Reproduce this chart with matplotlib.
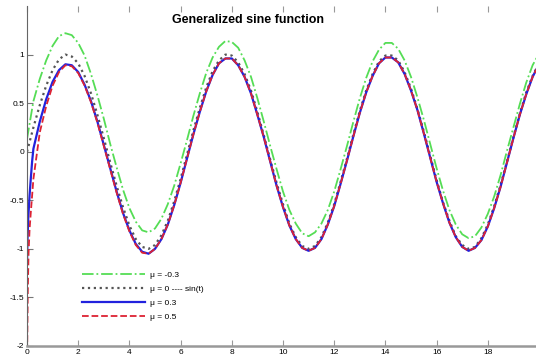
import numpy as np
import matplotlib
matplotlib.use("Agg")
import matplotlib.pyplot as plt

plt.rcParams['font.family'] = ['Liberation Sans', 'DejaVu Sans']

# common grid (step 0.25 from 0 to 20)
t = np.arange(0, 20.001, 0.25)

# mu = -0.3
y_m03 = [0.13, 0.52, 0.75, 0.94, 1.09, 1.19, 1.22, 1.20, 1.12, 0.99, 0.80, 0.58, 0.34,
         0.08, -0.16, -0.39, -0.58, -0.72, -0.81, -0.83, -0.79, -0.69, -0.54, -0.35,
         -0.12, 0.12, 0.37, 0.60, 0.81, 0.97, 1.08, 1.14, 1.13, 1.07, 0.94, 0.77, 0.55,
         0.31, 0.06, -0.18, -0.41, -0.60, -0.74, -0.84, -0.87, -0.83, -0.74, -0.60,
         -0.41, -0.18, 0.06, 0.31, 0.55, 0.76, 0.93, 1.05, 1.12, 1.12, 1.06, 0.94, 0.77,
         0.56, 0.33, 0.08, -0.17, -0.40, -0.60, -0.75, -0.85, -0.89, -0.87, -0.78,
         -0.64, -0.46, -0.24, 0.01, 0.25, 0.49, 0.71, 0.89, 1.01]

# mu = 0 (sin t)
y_0 = [0.00, 0.25, 0.48, 0.68, 0.84, 0.95, 1.00, 0.98, 0.91, 0.78, 0.60, 0.38, 0.14,
       -0.11, -0.35, -0.57, -0.76, -0.90, -0.98, -1.00, -0.96, -0.86, -0.71, -0.51,
       -0.28, -0.03, 0.22, 0.45, 0.66, 0.83, 0.94, 1.00, 0.99, 0.92, 0.80, 0.63, 0.41,
       0.17, -0.08, -0.32, -0.54, -0.74, -0.88, -0.97, -1.00, -0.97, -0.88, -0.73,
       -0.54, -0.31, -0.07, 0.18, 0.42, 0.63, 0.80, 0.93, 0.99, 0.99, 0.94, 0.82, 0.65,
       0.44, 0.21, -0.04, -0.29, -0.52, -0.71, -0.87, -0.96, -1.00, -0.98, -0.89,
       -0.75, -0.56, -0.34, -0.10, 0.15, 0.39, 0.61, 0.78, 0.91]

# mu = 0.3 (extra points near t = 0)
t_03 = np.concatenate([[0.0, 0.02, 0.05, 0.1, 0.15, 0.2], t[1:]])
y_03 = [-1.15, -0.9, -0.68, -0.45, -0.27, -0.1,
        0.03, 0.31, 0.54, 0.72, 0.84, 0.90, 0.89, 0.82, 0.69, 0.52, 0.31, 0.07,
        -0.17, -0.41, -0.63, -0.81, -0.95, -1.03, -1.05, -1.00, -0.90, -0.75, -0.55,
        -0.32, -0.07, 0.18, 0.41, 0.62, 0.79, 0.91, 0.96, 0.96, 0.89, 0.77, 0.60, 0.38,
        0.15, -0.10, -0.35, -0.57, -0.76, -0.90, -0.99, -1.02, -0.99, -0.90, -0.75,
        -0.56, -0.33, -0.09, 0.16, 0.40, 0.61, 0.78, 0.91, 0.97, 0.97, 0.92, 0.80, 0.63,
        0.43, 0.19, -0.06, -0.31, -0.53, -0.73, -0.88, -0.98, -1.02, -0.99, -0.91,
        -0.77, -0.58, -0.36, -0.11, 0.14, 0.38, 0.59, 0.77, 0.90]

# mu = 0.5 (extra points near t = 0)
t_05 = np.concatenate([[0.0, 0.01, 0.03, 0.06, 0.1, 0.15, 0.2], t[1:]])
y_05 = [-2.6, -1.95, -1.45, -1.05, -0.8, -0.62, -0.45,
        -0.28, 0.20, 0.47, 0.68, 0.82, 0.89, 0.88, 0.81, 0.68, 0.51, 0.30, 0.06,
        -0.18, -0.42, -0.64, -0.82, -0.96, -1.04, -1.05, -1.00, -0.90, -0.75, -0.55,
        -0.32, -0.07, 0.18, 0.41, 0.62, 0.79, 0.91, 0.96, 0.96, 0.89, 0.77, 0.60, 0.38,
        0.15, -0.10, -0.35, -0.57, -0.76, -0.90, -0.99, -1.02, -0.99, -0.90, -0.75,
        -0.56, -0.33, -0.09, 0.16, 0.40, 0.61, 0.78, 0.91, 0.97, 0.97, 0.92, 0.80, 0.63,
        0.43, 0.19, -0.06, -0.31, -0.53, -0.73, -0.88, -0.98, -1.02, -0.99, -0.91,
        -0.77, -0.58, -0.36, -0.11, 0.14, 0.38, 0.59, 0.77, 0.90]

labels = ['μ = -0.3', 'μ = 0 ---- sin(t)', 'μ = 0.3', 'μ = 0.5']
xticks = [0, 2, 4, 6, 8, 10, 12, 14, 16, 18]
yticks = [-2, -1.5, -1, -0.5, 0, 0.5, 1]
ytick_labels = ['-2', '-1.5', '-1', '-0.5', '0', '0.5', '1']

fig = plt.figure(figsize=(5.36, 3.6), dpi=100)
ax = fig.add_axes([27/536, 14/360, 512/536, 340/360])

ax.plot(t, y_m03, color='#55dd55', ls='-.', lw=1.3, label=labels[0])
ax.plot(t, y_0, color='#555555', ls=':', lw=1.6, label=labels[1])
ax.plot(t_03, y_03, color='#2222dd', ls='-', lw=1.6, label=labels[2])
ax.plot(t_05, y_05, color='#dd2233', ls='--', lw=1.3, label=labels[3])

ax.set_xlim(0, 20)
ax.set_ylim(-2, 1.5)
ax.set_xticks(xticks)
ax.set_xticklabels([str(v) for v in xticks])
ax.set_yticks(yticks)
ax.set_yticklabels(ytick_labels)
ax.tick_params(direction='in', length=4, labelsize=6, top=True, pad=2)
ax.tick_params(axis='x', colors='#999999', labelcolor='black')
ax.tick_params(axis='y', colors='#777777', labelcolor='black')
for s in ['top', 'right']:
    ax.spines[s].set_visible(False)
ax.spines['bottom'].set_color('#999999')
ax.spines['bottom'].set_linewidth(1.8)
ax.spines['left'].set_color('#666666')
ax.spines['left'].set_linewidth(0.8)

fig.text(248/536, 1 - 20/360, 'Generalized sine function', ha='center', va='center',
         fontsize=9, fontweight='bold')

ax.legend(loc='upper left', bbox_to_anchor=(78/536, 1 - 267/360),
          bbox_transform=fig.transFigure, frameon=False, fontsize=6,
          handlelength=7.5, labelspacing=0.75, borderpad=0, handletextpad=0.6)

fig.savefig('out.png', dpi=100)
